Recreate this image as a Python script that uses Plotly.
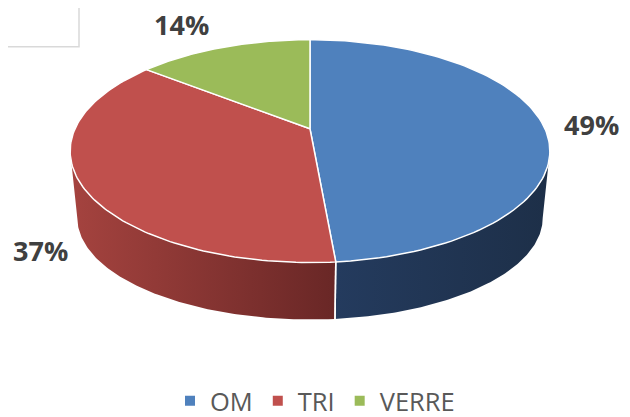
import math
import plotly.graph_objects as go

# ---- data ----
categories = ["OM", "TRI", "VERRE"]
values = [48.6, 37.1, 14.3]
top_colors = ["#4f81bd", "#c0504d", "#9bbb59"]
side_scales = [
    [[0, "#243b5e"], [1, "#1d2f48"]],
    [[0, "#a5433f"], [1, "#692726"]],
    [[0, "#7a9444"], [1, "#5a6e32"]],
]

# ---- projection (pixel space) ----
W, H = 630, 417
OFF = 8  # page body margin compensation
XC, YC = 310.0, 130.0       # projected pie centre (top face)
A, C, K = 235.0, 108.0, 0.2  # top face radii / perspective
A2, C2, YB = 228.0, 98.4, 199.5  # bottom face


def top(theta, r=1.0):
    t = math.radians(theta)
    w = 1 + K * r * math.cos(t)
    return XC + A * r * math.sin(t) / w, YC - C * r * math.cos(t) / w


def bot(theta, r=1.0):
    t = math.radians(theta)
    w = 1 + K * r * math.cos(t)
    return XC + A2 * r * math.sin(t) / w, YB - C2 * r * math.cos(t) / w


def arc(f, a0, a1, n=120):
    pts = [f(a0 + (a1 - a0) * i / n) for i in range(n + 1)]
    return [p[0] for p in pts], [p[1] for p in pts]


total = sum(values)
angles = []
acc = 0.0
for v in values:
    a0 = acc / total * 360
    acc += v
    angles.append((a0, acc / total * 360))

sil = math.degrees(math.acos(-K))
vis0, vis1 = sil, 360 - sil

fig = go.Figure()

# side faces
for (a0, a1), cs in zip(angles, side_scales):
    lo, hi = max(a0, vis0), min(a1, vis1)
    if hi <= lo:
        continue
    tx, ty = arc(top, lo, hi)
    bx, by = arc(bot, hi, lo)
    fig.add_trace(go.Scatter(
        x=tx + bx + [tx[0]], y=ty + by + [ty[0]], mode="lines",
        fill="toself", line=dict(width=0),
        fillgradient=dict(type="horizontal", colorscale=cs),
        hoverinfo="skip", showlegend=False))

# divider lines on the side
for (a0, a1) in angles:
    for a in (a0, a1):
        if vis0 < a < vis1:
            p, q = top(a), bot(a)
            fig.add_trace(go.Scatter(x=[p[0], q[0]], y=[p[1], q[1]], mode="lines",
                                     line=dict(color="white", width=1.5),
                                     hoverinfo="skip", showlegend=False))

# top faces
for (a0, a1), col, name in zip(angles, top_colors, categories):
    ax, ay = arc(top, a0, a1)
    fig.add_trace(go.Scatter(
        x=[XC] + ax + [XC], y=[YC] + ay + [YC], mode="lines", fill="toself",
        fillcolor=col, line=dict(color="white", width=1.5),
        hoverinfo="skip", showlegend=False))

# legend entries
for col, name in zip(top_colors, categories):
    fig.add_trace(go.Scatter(x=[None], y=[None], mode="markers", name=name,
                             marker=dict(symbol="square", size=10, color=col)))

# data labels
nudges = {0: (-2, 1), 1: (10, 8), 2: (-26, -8)}
for i, ((a0, a1), v) in enumerate(zip(angles, values)):
    mid = (a0 + a1) / 2
    R = 1.22
    px, py = top(mid, R)
    if math.cos(math.radians(mid)) < 0:
        qx, qy = bot(mid, R)
        px, py = 0.3 * px + 0.7 * qx, 0.3 * py + 0.7 * qy
    dx, dy = nudges[i]
    fig.add_annotation(x=px + dx, y=py + dy, text=f"{round(v / total * 100)}%",
                       showarrow=False, xanchor="center", yanchor="middle",
                       font=dict(family="Open Sans", size=27, color="#404040", weight="bold"))

fig.add_shape(type="rect", xref="x", yref="y", x0=-2, y0=-2, x1=79, y1=47,
              line=dict(color="#d9d9d9", width=1.5), fillcolor="rgba(0,0,0,0)")

fig.update_xaxes(range=[OFF, W + OFF], visible=False, fixedrange=True)
fig.update_yaxes(range=[H + OFF, OFF], visible=False, fixedrange=True)
fig.update_layout(
    width=W, height=H, margin=dict(l=0, r=0, t=0, b=0),
    paper_bgcolor="white", plot_bgcolor="white",
    legend=dict(orientation="h", x=(315 - OFF) / W, xanchor="center",
                y=1 - (405 - OFF) / H, yanchor="middle",
                font=dict(family="Open Sans", size=25.5, color="#595959"),
                itemwidth=30, bgcolor="rgba(0,0,0,0)"),
)
fig.write_html("out.html", config={"displayModeBar": False})
